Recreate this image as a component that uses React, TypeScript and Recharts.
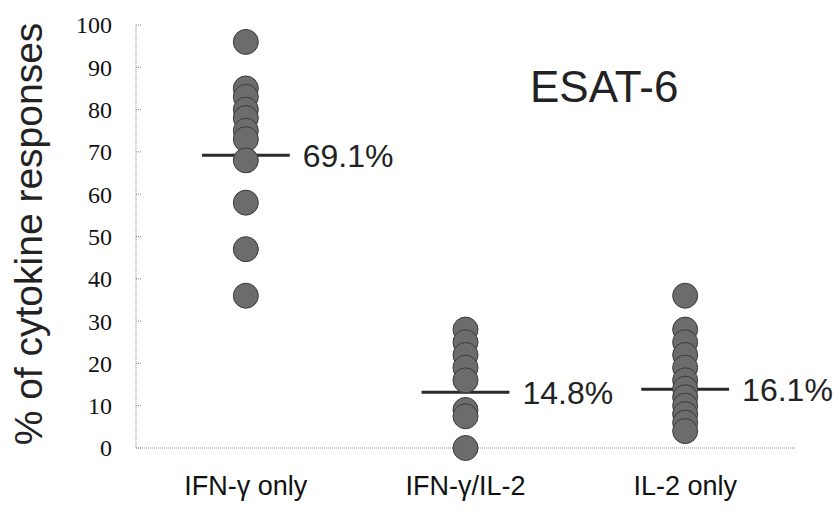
import { ScatterChart, Scatter, XAxis, YAxis, ReferenceLine } from "recharts";

const groups = ["IFN-γ only", "IFN-γ/IL-2", "IL-2 only"];
const ifnOnly = [96, 85, 83, 80, 78, 75, 73, 68, 58, 47, 36];
const ifnIl2 = [28, 25, 22, 19, 16, 9, 7.5, 0];
const il2Only = [36, 28, 25, 22, 19, 16, 14, 12, 10, 8, 6, 4];
const meanLines = [69.2, 13.2, 13.9];
const meanLabels = ["69.1%", "14.8%", "16.1%"];
const yTicks = [0, 10, 20, 30, 40, 50, 60, 70, 80, 90, 100];

const series = [ifnOnly, ifnIl2, il2Only].map((vals, i) =>
  vals.map((v) => ({ x: i + 0.5, y: v }))
);

const dot = (p: any) => (
  <circle cx={p.cx} cy={p.cy} r={12.5} fill="#6c6c6c" stroke="#3a3a3a" strokeWidth={1} />
);

const YTick = (p: any) => {
  const axisX = p.x + 24;
  return (
    <g>
      <line x1={axisX} x2={axisX + 5} y1={p.y} y2={p.y} stroke="#888" strokeDasharray="1 1" />
      <text
        x={p.x}
        y={p.y}
        dy="0.35em"
        textAnchor="end"
        fill="#111"
        fontSize={24}
        fontFamily="'Liberation Serif', 'DejaVu Serif', serif"
      >
        {p.payload.value}
      </text>
    </g>
  );
};

export default function App() {
  return (
    <div style={{ position: "fixed", left: 0, top: 0, width: 840, height: 515, background: "#fff" }}>
      <ScatterChart width={840} height={515} margin={{ top: 25, right: 45, bottom: 27, left: 76 }}>
        <XAxis
          type="number"
          dataKey="x"
          domain={[0, 3]}
          ticks={[0.5, 1.5, 2.5]}
          tickFormatter={(v: number) => groups[Math.floor(v)]}
          height={40}
          tickLine={false}
          tickMargin={22}
          axisLine={{ stroke: "#888", strokeDasharray: "1 1" }}
          tick={{
            fill: "#111",
            fontSize: 27,
            fontFamily: "'Liberation Sans Narrow', 'Arial Narrow', 'Liberation Sans', sans-serif",
          }}
        />
        <YAxis
          type="number"
          dataKey="y"
          domain={[0, 100]}
          ticks={yTicks}
          width={60}
          tickLine={false}
          tickMargin={18}
          axisLine={{ stroke: "#888", strokeDasharray: "1 1" }}
          tick={<YTick />}
        />
        {series.map((d, i) => (
          <Scatter key={i} data={d} shape={dot} isAnimationActive={false} />
        ))}
        {meanLines.map((m, i) => (
          <ReferenceLine
            key={i}
            segment={[
              { x: i + 0.3, y: m },
              { x: i + 0.7, y: m },
            ]}
            stroke="#2a2a2a"
            strokeWidth={3}
            ifOverflow="visible"
            label={{
              value: meanLabels[i],
              position: "right",
              offset: 13,
              fill: "#222",
              fontSize: 32,
              fontFamily: "'Liberation Sans', Arial, sans-serif",
            }}
          />
        ))}
      </ScatterChart>
      <svg width={840} height={515} style={{ position: "absolute", left: 0, top: 0, pointerEvents: "none" }}>
        <text
          x={530}
          y={102}
          fontSize={44}
          fill="#222"
          fontFamily="'Liberation Sans', Arial, sans-serif"
        >
          ESAT-6
        </text>
        <text
          x={42}
          y={234}
          transform="rotate(-90 42 234)"
          textAnchor="middle"
          fontSize={39}
          fill="#222"
          fontFamily="'Liberation Sans', Arial, sans-serif"
        >
          % of cytokine responses
        </text>
      </svg>
    </div>
  );
}
